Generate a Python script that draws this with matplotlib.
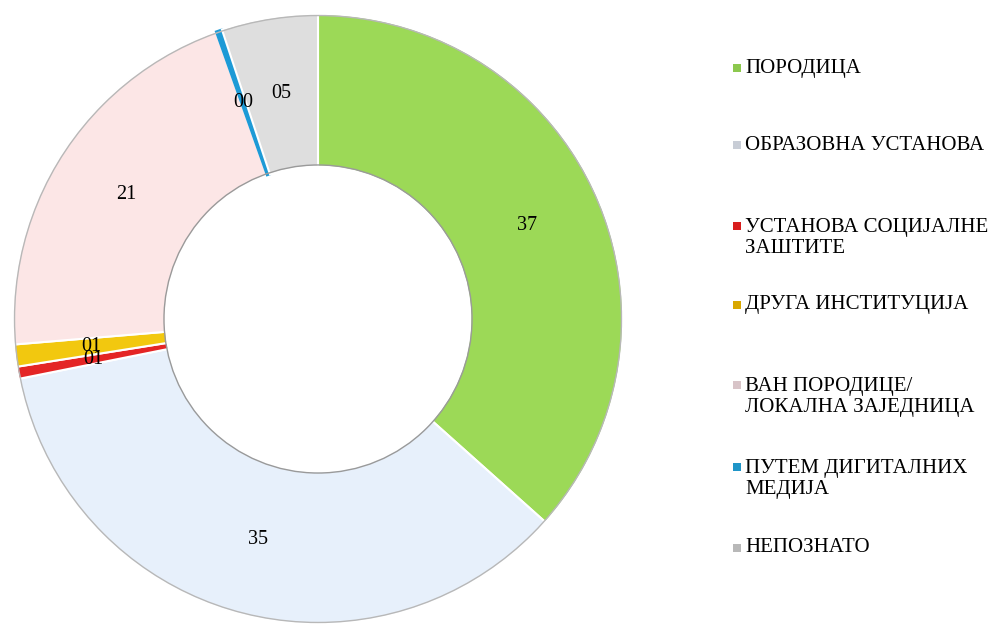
import matplotlib
matplotlib.use('Agg')
import matplotlib.pyplot as plt
from matplotlib.patches import Circle, Rectangle

categories = ['ПОРОДИЦА', 'ОБРАЗОВНА УСТАНОВА', 'УСТАНОВА СОЦИЈАЛНЕ\nЗАШТИТЕ',
              'ДРУГА ИНСТИТУЦИЈА', 'ВАН ПОРОДИЦЕ/\nЛОКАЛНА ЗАЈЕДНИЦА',
              'ПУТЕМ ДИГИТАЛНИХ\nМЕДИЈА', 'НЕПОЗНАТО']
values = [36.6, 35.25, 0.64, 1.17, 20.9, 0.33, 5.1]
colors = ['#9CD957', '#E7F0FB', '#E42525', '#F2C80F', '#FCE6E6', '#1D9AD6', '#DEDEDE']
legend_colors = ['#8CC84E', '#C8CDD6', '#D81E1E', '#D9A800', '#D8C4C8', '#1F95C8', '#B8B8B8']

plt.rcParams['font.family'] = ['Liberation Serif', 'DejaVu Serif']

fig = plt.figure(figsize=(9.95, 6.28), dpi=100)
W, H = 995, 628

# ---------- donut ----------
cx, cy, r = 318, 319, 305
ax = fig.add_axes([(cx - r) / W, (H - cy - r) / H, 2 * r / W, 2 * r / H])
wedges, texts, autotexts = ax.pie(
    values, colors=colors, startangle=90, counterclock=False,
    radius=1.0, autopct=lambda p: f'{p:02.0f}', pctdistance=0.75,
    wedgeprops=dict(width=0.5, edgecolor='white', linewidth=1.5),
    textprops=dict(fontsize=14.5, color='black'))
# the thin "digital media" slice is drawn with its own colour as outline so it stays visible
wedges[5].set_edgecolor(colors[5])
wedges[5].set_linewidth(1.5)
# soft shadow-ish outlines of the ring
ax.add_patch(Circle((0, 0), 0.995, fill=False, edgecolor='#b8b8b8', linewidth=1.0))
ax.add_patch(Circle((0, 0), 0.505, fill=False, edgecolor='#9a9a9a', linewidth=1.0))
ax.set_xlim(-1.0, 1.0)
ax.set_ylim(-1.0, 1.0)
ax.set_aspect('equal')
ax.axis('off')

# ---------- legend ----------
legend_y = [68, 145, 238, 305, 397, 479, 548]
for name, col, y in zip(categories, legend_colors, legend_y):
    fig.text(745 / W, 1 - y / H, name, fontsize=15, va='center', ha='left',
             linespacing=1.2)
    first_line = y if '\n' not in name else y - 12
    fig.patches.append(Rectangle(((733) / W, 1 - (first_line + 4) / H), 8 / W, 8 / H,
                                 transform=fig.transFigure, facecolor=col,
                                 edgecolor='none'))

plt.savefig('out.png', dpi=100)
